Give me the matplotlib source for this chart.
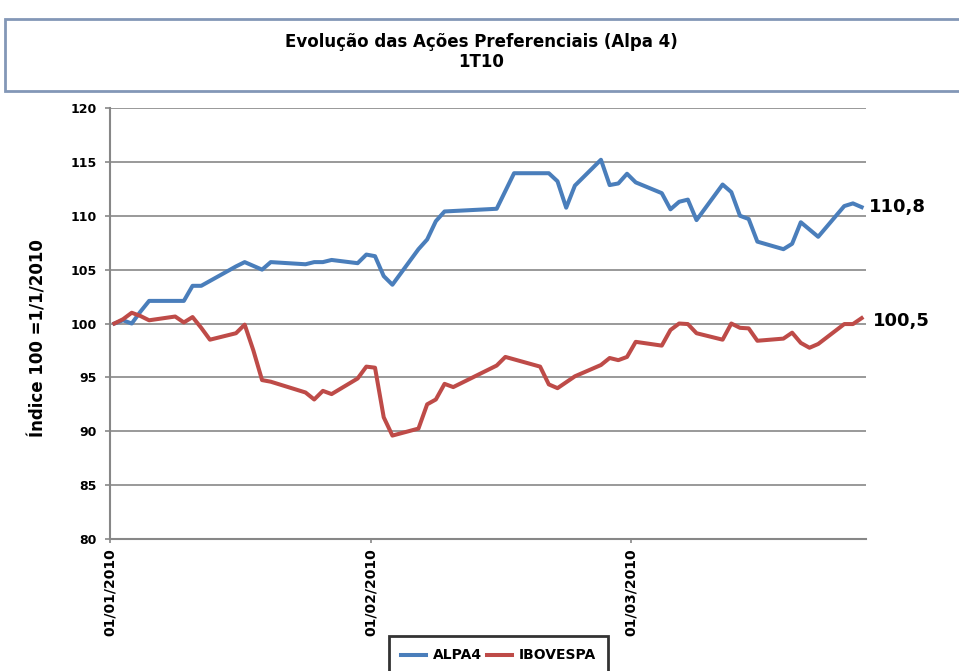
import matplotlib

matplotlib.use("Agg")
import matplotlib.pyplot as plt
from matplotlib.patches import Rectangle


# trading-session index (category axis) and index values
alpa_session = [0, 1, 2, 3, 4, 7, 8, 9, 10, 14, 15, 17, 18, 22, 23, 24, 25, 28, 29,
                30, 31, 32, 35, 36, 37, 38, 44, 46, 50, 51, 52, 53, 56, 57, 58, 59,
                60, 63, 64, 65, 66, 67, 70, 71, 72, 73, 74, 77, 78, 79, 81, 84, 85, 86]
alpa4 = [100.0, 100.3, 100.0, 101.1, 102.1, 102.1, 102.1, 103.5, 103.5, 105.3,
         105.7, 105.0, 105.7, 105.5, 105.7, 105.7, 105.9, 105.6, 106.4, 106.25,
         104.4, 103.6, 106.9, 107.8, 109.5, 110.4, 110.65, 113.95, 113.95, 113.2,
         110.75, 112.8, 115.2, 112.85, 113.0, 113.9, 113.1, 112.1, 110.6, 111.3,
         111.5, 109.6, 112.9, 112.2, 110.0, 109.7, 107.6, 106.9, 107.4, 109.4,
         108.05, 110.9, 111.15, 110.8]

ibov_session = [0, 1, 2, 3, 4, 7, 8, 9, 10, 11, 14, 15, 16, 17, 18, 22, 23, 24, 25,
                28, 29, 30, 31, 32, 35, 36, 37, 38, 39, 44, 45, 49, 50, 51, 53, 56,
                57, 58, 59, 60, 63, 64, 65, 66, 67, 70, 71, 72, 73, 74, 77, 78, 79,
                80, 81, 84, 85, 86]
ibovespa = [100.0, 100.4, 101.0, 100.7, 100.3, 100.65, 100.1, 100.6, 99.6, 98.5,
            99.1, 99.9, 97.5, 94.75, 94.6, 93.6, 92.95, 93.75, 93.45, 94.9, 96.0,
            95.9, 91.3, 89.6, 90.25, 92.5, 92.95, 94.4, 94.1, 96.1, 96.9, 96.0,
            94.35, 94.0, 95.1, 96.15, 96.8, 96.6, 96.9, 98.3, 97.95, 99.4, 100.0,
            99.95, 99.1, 98.5, 100.0, 99.6, 99.55, 98.4, 98.6, 99.15, 98.2, 97.75,
            98.1, 99.95, 99.95, 100.5]

date_ticks = [-0.5, 29.5, 59.5]
date_labels = ["01/01/2010", "01/02/2010", "01/03/2010"]
y_ticks = list(range(80, 121, 5))

BLUE = "#4A7EBB"
RED = "#BE4B48"
GRID = "#878787"

plt.rcParams["font.family"] = ["DejaVu Sans"]

fig = plt.figure(figsize=(9.59, 6.71), dpi=100)
fig.patch.set_facecolor("white")

# title frame running off the right edge, like the cropped original
fig.patches.append(
    Rectangle((0.0055, 0.864), 1.02, 0.108, transform=fig.transFigure,
              facecolor="white", edgecolor="#8397B7", linewidth=2.0, zorder=0)
)
fig.text(0.5016, 0.937, "Evolução das Ações Preferenciais (Alpa 4)",
         ha="center", va="center", fontsize=12, fontweight="bold")
fig.text(0.5016, 0.907, "1T10", ha="center", va="center",
         fontsize=12, fontweight="bold")

ax = fig.add_axes([0.1147, 0.1967, 0.7883, 0.6423])

ax.plot(alpa_session, alpa4, color=BLUE, linewidth=2.9, label="ALPA4",
        solid_joinstyle="round", zorder=3)
ax.plot(ibov_session, ibovespa, color=RED, linewidth=2.9, label="IBOVESPA",
        solid_joinstyle="round", zorder=3)

ax.set_xlim(-0.5, 86.5)
ax.set_ylim(80, 120)
ax.set_yticks(y_ticks)
ax.set_yticklabels([str(v) for v in y_ticks], fontsize=9, fontweight="bold")
ax.set_xticks(date_ticks)
ax.set_xticklabels(date_labels, rotation=90, fontsize=10, fontweight="bold",
                   va="top", ha="center")

ax.grid(True, axis="y", color=GRID, linewidth=1.2)
ax.set_axisbelow(True)
for side in ("top", "right"):
    ax.spines[side].set_visible(False)
for side in ("left", "bottom"):
    ax.spines[side].set_color(GRID)
    ax.spines[side].set_linewidth(1.5)
ax.tick_params(axis="y", length=3.5, width=1.2, color=GRID, pad=6)
ax.tick_params(axis="x", length=3, width=1.2, color=GRID, pad=4)

ax.set_ylabel("Índice 100 =1/1/2010", fontsize=12, fontweight="bold")
ax.yaxis.set_label_coords(-0.083, 0.466)

# end-of-period values
ax.annotate("110,8", (alpa_session[-1], alpa4[-1]), xytext=(5, 0),
            textcoords="offset points", ha="left", va="center",
            fontsize=13, fontweight="bold", annotation_clip=False)
ax.annotate("100,5", (ibov_session[-1], ibovespa[-1]), xytext=(8, -2),
            textcoords="offset points", ha="left", va="center",
            fontsize=13, fontweight="bold", annotation_clip=False)

leg = fig.legend(loc="upper center", bbox_to_anchor=(0.52, 1 - 629 / 671),
                 ncol=2, frameon=True, fancybox=False,
                 handlelength=1.8, handletextpad=0.45, columnspacing=0.4,
                 borderpad=0.9, prop={"weight": "bold", "size": 10})
leg.get_frame().set_edgecolor("black")
leg.get_frame().set_linewidth(2.0)

fig.savefig("out.png", dpi=100, facecolor="white")
